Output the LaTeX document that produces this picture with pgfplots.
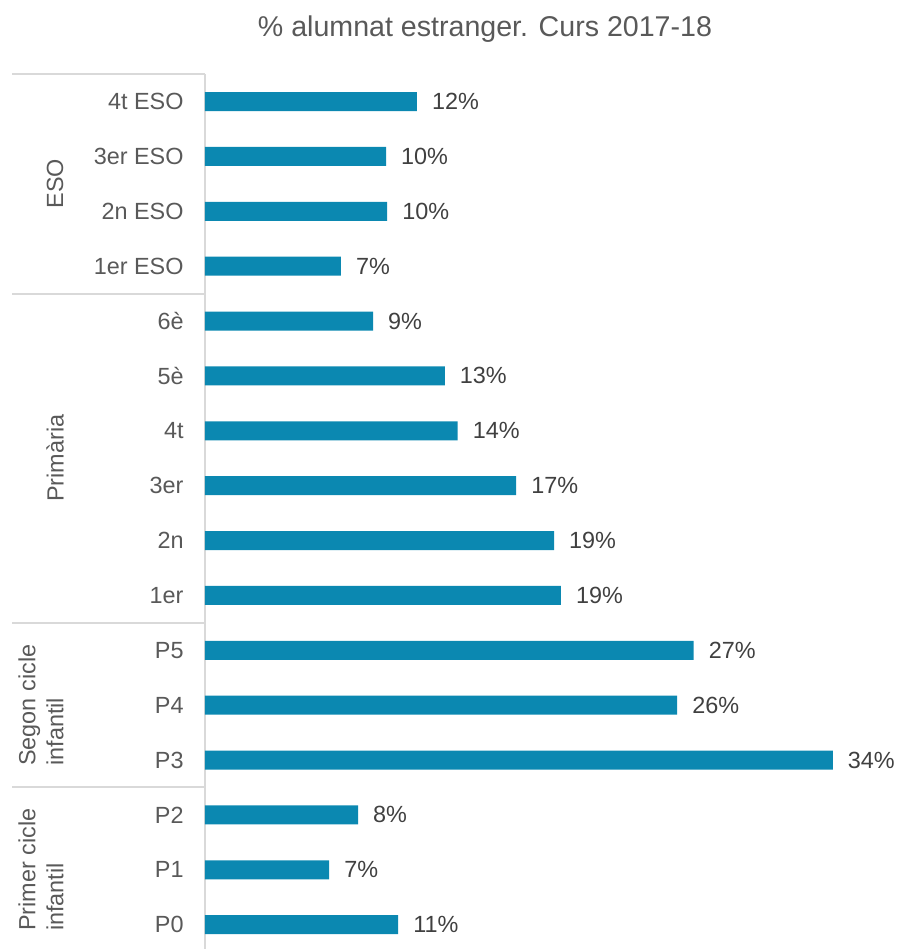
\documentclass[border=0pt]{standalone}
\usepackage{pgfplots}
\pgfplotsset{compat=1.18}
\usepackage{fontspec}
\setmainfont{Liberation Sans}
\usetikzlibrary{calc}

\definecolor{barc}{HTML}{0B88B1}
\definecolor{txtc}{HTML}{595959}
\definecolor{lblc}{HTML}{404040}
\definecolor{linec}{HTML}{D9D9D9}

\begin{document}
\begin{tikzpicture}
  \useasboundingbox (-205bp,3.1bp) rectangle (694bp,952.1bp);
  \begin{axis}[
    at={(0,0)}, anchor=south west,
    scale only axis, width=694bp, height=878bp,
    xbar, bar width=19bp,
    xmin=0, xmax=37.92, ymin=-0.5, ymax=15.5,
    hide x axis,
    axis y line*=left,
    y axis line style={-, draw=linec, line width=2.5bp},
    ytick={0,...,15},
    yticklabels={P0,P1,P2,P3,P4,P5,1er,2n,3er,4t,5è,6è,1er ESO,2n ESO,3er ESO,4t ESO},
    ytick style={draw=none},
    yticklabel style={font=\fontsize{23.5}{27}\selectfont, text=txtc, inner sep=0pt, xshift=-17bp},
    point meta=explicit symbolic,
    nodes near coords,
    nodes near coords style={font=\fontsize{23.5}{27}\selectfont, text=lblc, anchor=west, inner sep=0pt, xshift=15bp},
    clip=false,
  ]
    \addplot[fill=barc, draw=none] coordinates {
      (10.55,0) [11\%]
      (6.78,1)  [7\%]
      (8.36,2)  [8\%]
      (34.3,3)  [34\%]
      (25.8,4)  [26\%]
      (26.7,5)  [27\%]
      (19.45,6) [19\%]
      (19.07,7) [19\%]
      (17.0,8)  [17\%]
      (13.8,9)  [14\%]
      (13.1,10) [13\%]
      (9.18,11) [9\%]
      (7.43,12) [7\%]
      (9.95,13) [10\%]
      (9.89,14) [10\%]
      (11.58,15) [12\%]
    };
    % group separators
    \pgfplotsinvokeforeach{15.5,11.5,5.5,2.5}{
      \draw[linec, line width=2bp] (axis cs:0,#1) -- (axis cs:-10.55,#1);
    }
    % group labels
    \node[rotate=90, font=\fontsize{23.5}{27}\selectfont, text=txtc] at ($(axis cs:0,13.5)+(-150bp,0bp)$) {ESO};
    \node[rotate=90, font=\fontsize{23.5}{27}\selectfont, text=txtc] at ($(axis cs:0,8.5)+(-150bp,0bp)$) {Primària};
    \node[rotate=90, font=\fontsize{23.5}{28}\selectfont, text=txtc, align=left] at ($(axis cs:0,4)+(-164bp,0bp)$) {Segon cicle\\infantil};
    \node[rotate=90, font=\fontsize{23.5}{28}\selectfont, text=txtc, align=left] at ($(axis cs:0,1)+(-164bp,0bp)$) {Primer cicle\\infantil};
  \end{axis}
  \node[anchor=base, font=\fontsize{28.7}{33}\selectfont, text=txtc] at (280bp,916bp) {\% alumnat estranger. Curs 2017-18};
\end{tikzpicture}
\end{document}
